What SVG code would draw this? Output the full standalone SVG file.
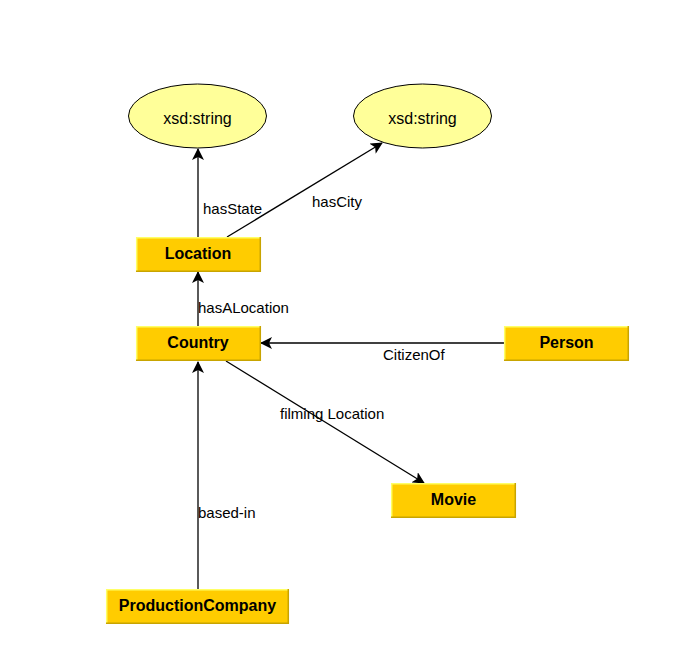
<svg xmlns="http://www.w3.org/2000/svg" width="700" height="667" viewBox="0 0 700 667">
<defs>
<marker id="arr" viewBox="0 0 12 12" refX="11" refY="6" markerWidth="12" markerHeight="12" markerUnits="userSpaceOnUse" orient="auto">
<path d="M0,0 L12,6 L0,12 L3,6 Z" fill="#000"/>
</marker>
</defs>
<style>
.box{fill:#FFCC00;}
.hi{stroke:#FFFF66;stroke-width:1.5;fill:none;}
.lo{stroke:#C8A400;stroke-width:1.5;fill:none;}
.nl{font-family:"Liberation Sans",Arial,sans-serif;font-size:16px;font-weight:bold;fill:#000;text-anchor:middle;}
.el{fill:#FFFF99;stroke:#000;stroke-width:1;}
.et{font-family:"Liberation Sans",Arial,sans-serif;font-size:16px;fill:#000;text-anchor:middle;}
.edge{stroke:#000;stroke-width:1.3;fill:none;marker-end:url(#arr);}
.lbl{font-family:"Liberation Sans",Arial,sans-serif;font-size:15px;fill:#000;}
</style>
<rect width="700" height="667" fill="#fff"/>
<g id="connectors">
<line class="edge" x1="198" y1="237" x2="198" y2="149"/>
<line class="edge" x1="227" y1="237" x2="382" y2="143"/>
<line class="edge" x1="198" y1="326" x2="198" y2="272"/>
<line class="edge" x1="504" y1="343" x2="261" y2="343"/>
<line class="edge" x1="226" y1="361" x2="424" y2="483"/>
<line class="edge" x1="198" y1="589" x2="198" y2="362"/>
<text class="lbl" x="203" y="214">hasState</text>
<text class="lbl" x="312" y="207">hasCity</text>
<text class="lbl" x="198" y="313">hasALocation</text>
<text class="lbl" x="383" y="360">CitizenOf</text>
<text class="lbl" x="280" y="419">filming Location</text>
<text class="lbl" x="198" y="518">based-in</text>
</g>
<g id="n-xsd-state">
<ellipse class="el" cx="197.5" cy="116" rx="69" ry="32"/>
<text class="et" x="197.5" y="124">xsd:string</text>
</g>
<g id="n-xsd-city">
<ellipse class="el" cx="422.5" cy="116" rx="69" ry="32"/>
<text class="et" x="422.5" y="124">xsd:string</text>
</g>
<g id="n-location">
<rect class="box" x="136" y="237" width="124" height="35"/>
<path class="hi" d="M136.7,272 V237.7 H260"/>
<path class="lo" d="M136,271.3 H260.3 V237"/>
<text class="nl" x="198" y="259">Location</text>
</g>
<g id="n-country">
<rect class="box" x="136" y="326" width="124" height="35"/>
<path class="hi" d="M136.7,361 V326.7 H260"/>
<path class="lo" d="M136,360.3 H260.3 V326"/>
<text class="nl" x="198" y="348">Country</text>
</g>
<g id="n-person">
<rect class="box" x="504" y="326" width="125" height="35"/>
<path class="hi" d="M504.7,361 V326.7 H629"/>
<path class="lo" d="M504,360.3 H628.3 V326"/>
<text class="nl" x="566.5" y="348">Person</text>
</g>
<g id="n-movie">
<rect class="box" x="391" y="483" width="125" height="35"/>
<path class="hi" d="M391.7,518 V483.7 H516"/>
<path class="lo" d="M391,517.3 H515.3 V483"/>
<text class="nl" x="453.5" y="505">Movie</text>
</g>
<g id="n-production">
<rect class="box" x="106" y="589" width="183" height="35"/>
<path class="hi" d="M106.7,624 V589.7 H289"/>
<path class="lo" d="M106,623.3 H288.3 V589"/>
<text class="nl" x="197.5" y="611">ProductionCompany</text>
</g>
</svg>
